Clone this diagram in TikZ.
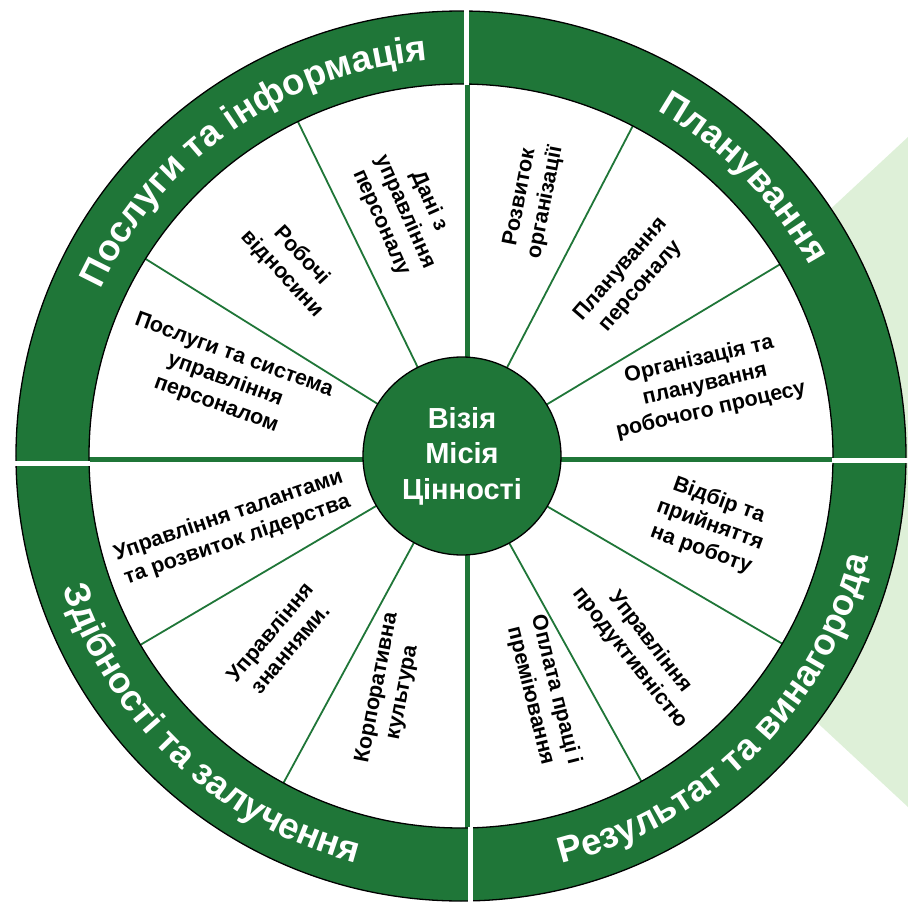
\documentclass[tikz,border=0pt]{standalone}
\usepackage{fontspec}
\setmainfont{Liberation Sans}
\usetikzlibrary{decorations.text}
\definecolor{wheelgreen}{RGB}{31,118,56}
\definecolor{palegreen}{RGB}{222,240,216}
\newcommand\ringfont{\fontsize{36.5}{40}\selectfont\bfseries\color{white}}
\begin{document}
\begin{tikzpicture}[x=1pt,y=1pt,
  sect/.style={font=\bfseries\fontsize{21.5}{26}\selectfont, align=center, text=black, inner sep=0pt},
  thinline/.style={draw=wheelgreen, line width=1.8pt},
  thickline/.style={draw=wheelgreen, line width=5pt},
  gapline/.style={draw=white, line width=5pt},
  ringtext/.style={decorate, decoration={text along path, text align=center, text={|\ringfont|#1}}}
]
\useasboundingbox (-461,-447) rectangle (447,456);
% pale background band
\fill[palegreen] (319,200) -- (447,319) -- (447,-351) -- (319,-232) -- cycle;
% white interior
\fill[white] (0,0) circle[radius=372pt];
% spokes
\foreach \a in {31,62.5,116,148,210.5,241.5,299,329.7}
  \draw[thinline] (\a:95pt) -- (\a:373pt);
\draw[thickline] (7,95) -- (7,373);
\draw[thickline] (7,-95) -- (7,-373);
\draw[thickline] (-95,-3) -- (-373,-3);
\draw[thickline] (95,-3) -- (373,-3);
% ring
\fill[wheelgreen, even odd rule] (0,0) circle[radius=445pt] (0,0) circle[radius=372pt];
\draw[black, line width=1.3pt] (0,0) circle[radius=445pt] (0,0) circle[radius=372pt];
\draw[gapline] (5.5,371) -- (5.5,448);
\draw[gapline] (9.5,-371) -- (9.5,-448);
\draw[gapline] (-371,-7) -- (-448,-7);
\draw[gapline] (371,-4.5) -- (448,-4.5);
% ring labels
\path[ringtext={Послуги та інформація}] (179:397pt) arc[start angle=179, end angle=71, radius=397pt];
\path[ringtext={Планування}] (88:397pt) arc[start angle=88, end angle=1, radius=397pt];
\path[ringtext={Результат та винагорода}] (-90:420pt) arc[start angle=-90, end angle=0, radius=420pt];
\path[ringtext={Здібності та залучення}] (180:420pt) arc[start angle=180, end angle=274, radius=420pt];
% centre
\node[circle, fill=wheelgreen, draw=black, line width=1.3pt, minimum size=198pt, inner sep=0pt,
      font=\bfseries\fontsize{29}{35.5}\selectfont, text=white, align=center] (core) at (1,0) {Візія\\Місія\\Цінності};
% sector labels
\node[sect, rotate=-66] (t1) at (-56,244) {Дані з\\управління\\персоналу};
\node[sect, rotate=-47] (t2) at (-169,191) {Робочі\\відносини};
\node[sect, rotate=-20] (t3) at (-236,76) {Послуги та система\\управління\\персоналом};
\node[sect, rotate=79] (t4) at (72,256) {Розвиток\\організації};
\node[sect, rotate=49] (t5) at (170,178) {Планування\\персоналу};
\node[sect, rotate=13] (t6) at (244,71) {Організація та\\планування\\робочого процесу};
\node[sect, rotate=-20] (t7) at (249,-69) {Відбір та\\прийняття\\на роботу};
\node[sect, rotate=-52] (t8) at (179,-194) {Управління\\продуктивністю};
\node[sect, rotate=-76] (t9) at (82,-237) {Оплата праці і\\преміювання};
\node[sect, rotate=79] (t10) at (-71,-234) {Корпоративна\\культура};
\node[sect, rotate=50] (t11) at (-181,-184) {Управління\\знаннями.};
\node[sect, rotate=19] (t12) at (-228,-72) {Управління талантами\\та розвиток лідерства};
\end{tikzpicture}
\end{document}
